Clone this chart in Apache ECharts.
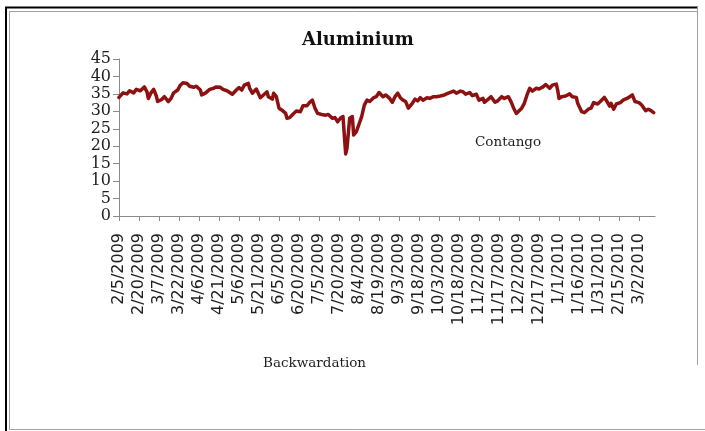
<!DOCTYPE html>
<html>
<head>
<meta charset="utf-8">
<title>Aluminium</title>
<script src="https://cdn.jsdelivr.net/npm/echarts@6/dist/echarts.min.js"></script>
<style>
  html, body { margin: 0; padding: 0; background: #ffffff; }
  #chart { width: 705px; height: 431px; }
</style>
</head>
<body>
<div id="chart"></div>
<script>
// Date axis runs day by day; a tick and label every 15 days
const axisStart = '2009-02-05';
const axisEnd = '2010-03-14';
const tickEveryDays = 15;

// Observation dates and spread values
const obsDates = [
  '2009-02-05','2009-02-08','2009-02-11','2009-02-13','2009-02-16','2009-02-18','2009-02-21','2009-02-24',
  '2009-02-26','2009-02-27','2009-03-01','2009-03-03','2009-03-05','2009-03-06','2009-03-09','2009-03-11',
  '2009-03-14','2009-03-16','2009-03-18','2009-03-21','2009-03-23','2009-03-25','2009-03-28','2009-03-30',
  '2009-04-02','2009-04-04','2009-04-07','2009-04-08','2009-04-11','2009-04-14','2009-04-17','2009-04-19',
  '2009-04-22','2009-04-24','2009-04-27','2009-05-01','2009-05-04','2009-05-06','2009-05-08','2009-05-10',
  '2009-05-13','2009-05-14','2009-05-16','2009-05-19','2009-05-20','2009-05-22','2009-05-25','2009-05-27',
  '2009-05-28','2009-05-31','2009-06-01','2009-06-03','2009-06-05','2009-06-07','2009-06-10','2009-06-11',
  '2009-06-13','2009-06-16','2009-06-18','2009-06-21','2009-06-23','2009-06-26','2009-06-28','2009-06-30',
  '2009-07-02','2009-07-04','2009-07-07','2009-07-10','2009-07-12','2009-07-15','2009-07-17','2009-07-19',
  '2009-07-21','2009-07-23','2009-07-25','2009-07-26','2009-07-28','2009-07-30','2009-07-31','2009-08-02',
  '2009-08-04','2009-08-06','2009-08-08','2009-08-10','2009-08-12','2009-08-15','2009-08-17','2009-08-19',
  '2009-08-22','2009-08-24','2009-08-25','2009-08-27','2009-08-29','2009-08-31','2009-09-02','2009-09-04',
  '2009-09-06','2009-09-08','2009-09-10','2009-09-13','2009-09-15','2009-09-17','2009-09-19','2009-09-21',
  '2009-09-24','2009-09-26','2009-09-29','2009-10-01','2009-10-04','2009-10-07','2009-10-10','2009-10-14',
  '2009-10-16','2009-10-19','2009-10-21','2009-10-23','2009-10-26','2009-10-28','2009-10-31','2009-11-02',
  '2009-11-05','2009-11-06','2009-11-09','2009-11-11','2009-11-14','2009-11-16','2009-11-19','2009-11-21',
  '2009-11-24','2009-11-26','2009-11-28','2009-11-30','2009-12-01','2009-12-04','2009-12-06','2009-12-08',
  '2009-12-10','2009-12-12','2009-12-15','2009-12-17','2009-12-20','2009-12-22','2009-12-25','2009-12-27',
  '2009-12-30','2009-12-31','2010-01-01','2010-01-03','2010-01-06','2010-01-09','2010-01-11','2010-01-14',
  '2010-01-15','2010-01-18','2010-01-20','2010-01-23','2010-01-25','2010-01-27','2010-01-30','2010-02-01',
  '2010-02-04','2010-02-06','2010-02-08','2010-02-09','2010-02-11','2010-02-13','2010-02-16','2010-02-18',
  '2010-02-21','2010-02-23','2010-02-25','2010-02-27','2010-03-02','2010-03-04','2010-03-07','2010-03-09',
  '2010-03-11','2010-03-13'
];
const obsValues = [
  34.0, 35.3, 35.0, 35.9, 35.3, 36.3, 35.9, 37.0,
  35.6, 33.7, 35.3, 36.3, 34.4, 32.8, 33.4, 34.2,
  32.8, 33.7, 35.3, 36.1, 37.5, 38.2, 38.0, 37.2,
  36.9, 37.2, 36.1, 34.7, 35.3, 36.3, 36.6, 37.0,
  36.9, 36.3, 35.9, 34.9, 36.1, 36.8, 36.1, 37.5,
  38.0, 36.6, 35.2, 36.4, 36.1, 33.9, 34.9, 35.6,
  34.2, 33.5, 35.2, 34.2, 30.9, 30.4, 29.4, 28.0,
  28.2, 29.4, 30.1, 29.9, 31.6, 31.6, 32.6, 33.2,
  30.9, 29.4, 29.1, 28.9, 29.1, 28.0, 28.2, 27.0,
  28.0, 28.5, 17.8, 19.4, 28.0, 28.5, 23.2, 24.2,
  26.3, 28.5, 31.8, 33.2, 32.8, 33.9, 34.2, 35.4,
  34.2, 34.7, 34.9, 33.7, 32.6, 34.2, 35.2, 33.9,
  33.2, 32.8, 30.9, 32.3, 33.5, 33.0, 33.9, 33.2,
  33.9, 33.7, 34.2, 34.2, 34.4, 34.7, 35.2, 35.8,
  35.2, 35.8, 35.6, 34.9, 35.4, 34.5, 34.9, 33.2,
  33.7, 32.6, 33.5, 34.2, 32.6, 33.0, 34.2, 33.7,
  34.2, 32.8, 30.9, 29.4, 29.1, 30.9, 32.3, 34.7,
  36.6, 35.8, 36.6, 36.4, 37.0, 37.7, 36.6, 37.5,
  37.8, 36.1, 33.7, 34.2, 34.4, 35.0, 34.2, 34.0,
  32.3, 29.9, 29.6, 30.6, 30.9, 32.5, 32.1, 32.8,
  34.0, 32.8, 31.5, 32.3, 30.6, 32.1, 32.5, 33.2,
  33.7, 34.2, 34.7, 32.8, 32.5, 31.8, 30.2, 30.6,
  30.2, 29.6
];

// Value axis range and step
const yMin = 0;
const yMax = 45;
const yStep = 5;

const DAY_MS = 86400000;
function isoToUTC(s) {
  const p = s.split('-').map(Number);
  return Date.UTC(p[0], p[1] - 1, p[2]);
}
const t0 = isoToUTC(axisStart);
const dayCount = Math.round((isoToUTC(axisEnd) - t0) / DAY_MS) + 1;

// One category per calendar day, written as M/D/YYYY
const dayLabels = [];
for (let i = 0; i < dayCount; i++) {
  const d = new Date(t0 + i * DAY_MS);
  dayLabels.push((d.getUTCMonth() + 1) + '/' + d.getUTCDate() + '/' + d.getUTCFullYear());
}

// Each observation sits on its own day of the axis
const lineData = obsDates.map((s, k) => [Math.round((isoToUTC(s) - t0) / DAY_MS), obsValues[k]]);

const axisGrey = '#8a8a8a';
const textDark = '#1e1e1e';

const chart = echarts.init(document.getElementById('chart'), null, { renderer: 'canvas' });

chart.setOption({
  backgroundColor: '#ffffff',
  animation: false,
  title: {
    text: 'Aluminium',
    left: 302,
    top: 31,
    padding: 0,
    textStyle: {
      fontFamily: 'DejaVu Serif',
      fontWeight: 'bold',
      fontSize: 18,
      color: '#111111'
    }
  },
  grid: {
    left: 119,
    right: 50,
    top: 59,
    bottom: 215,
    containLabel: false
  },
  xAxis: {
    type: 'category',
    data: dayLabels,
    boundaryGap: false,
    axisLine: { show: true, lineStyle: { color: axisGrey, width: 1 } },
    axisTick: {
      show: true,
      interval: tickEveryDays - 1,
      length: 5,
      lineStyle: { color: axisGrey, width: 1 }
    },
    axisLabel: {
      interval: tickEveryDays - 1,
      rotate: 90,
      margin: 17,
      hideOverlap: false,
      fontFamily: 'DejaVu Sans',
      fontSize: 16,
      color: textDark
    },
    splitLine: { show: false }
  },
  yAxis: {
    type: 'value',
    min: yMin,
    max: yMax,
    interval: yStep,
    axisLine: { show: true, lineStyle: { color: axisGrey, width: 1 } },
    axisTick: { show: true, length: 6, lineStyle: { color: axisGrey, width: 1 } },
    axisLabel: {
      margin: 8,
      showMinLabel: true,
      showMaxLabel: true,
      hideOverlap: false,
      fontFamily: 'DejaVu Serif',
      fontSize: 16,
      padding: 0,
      color: textDark
    },
    splitLine: { show: false }
  },
  series: [{
    name: 'Aluminium',
    type: 'line',
    data: lineData,
    showSymbol: false,
    symbol: 'none',
    connectNulls: true,
    lineStyle: { color: '#8e1111', width: 3.5, join: 'round', cap: 'round' },
    itemStyle: { color: '#8e1111' }
  }],
  graphic: [
    // outer frame: dark rule on top and left, grey inner box
    { type: 'line', shape: { x1: 5, y1: 7.5, x2: 698, y2: 7.5 }, style: { stroke: '#000000', lineWidth: 2 }, silent: true },
    { type: 'line', shape: { x1: 6, y1: 7, x2: 6, y2: 431 }, style: { stroke: '#000000', lineWidth: 2 }, silent: true },
    { type: 'line', shape: { x1: 9.5, y1: 11.5, x2: 697, y2: 11.5 }, style: { stroke: '#a0a0a0', lineWidth: 1 }, silent: true },
    { type: 'line', shape: { x1: 9.5, y1: 11.5, x2: 9.5, y2: 430 }, style: { stroke: '#a0a0a0', lineWidth: 1 }, silent: true },
    { type: 'line', shape: { x1: 9.5, y1: 429.5, x2: 705, y2: 429.5 }, style: { stroke: '#a0a0a0', lineWidth: 1 }, silent: true },
    { type: 'line', shape: { x1: 697.5, y1: 7, x2: 697.5, y2: 365 }, style: { stroke: '#a0a0a0', lineWidth: 1 }, silent: true },
    {
      type: 'text', left: 475, top: 135, silent: true,
      style: { text: 'Contango', fontFamily: 'DejaVu Serif', fontSize: 13.5, fill: textDark }
    },
    {
      type: 'text', left: 263, top: 356, silent: true,
      style: { text: 'Backwardation', fontFamily: 'DejaVu Serif', fontSize: 13.5, fill: textDark }
    }
  ]
});
</script>
</body>
</html>
